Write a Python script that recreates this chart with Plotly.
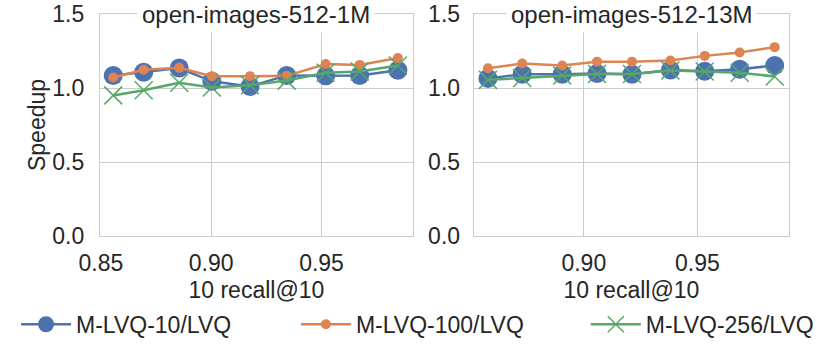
import plotly.graph_objects as go

# recall@10 positions
recall_1m = [0.8556, 0.8694, 0.8855, 0.9003, 0.9176, 0.9342, 0.9519, 0.9673, 0.9846]
recall_13m = [0.8578, 0.8729, 0.8905, 0.9058, 0.9212, 0.9381, 0.9532, 0.9686, 0.9840]

# speedups, open-images-512-1M
m10_1m = [1.084, 1.107, 1.135, 1.045, 1.010, 1.085, 1.082, 1.085, 1.120]
m100_1m = [1.071, 1.123, 1.136, 1.080, 1.080, 1.082, 1.162, 1.156, 1.202]
m256_1m = [0.950, 0.985, 1.035, 1.003, 1.018, 1.050, 1.103, 1.111, 1.152]

# speedups, open-images-512-13M
m10_13m = [1.065, 1.093, 1.093, 1.098, 1.093, 1.122, 1.113, 1.127, 1.152]
m100_13m = [1.133, 1.166, 1.152, 1.178, 1.178, 1.186, 1.217, 1.240, 1.276]
m256_13m = [1.055, 1.067, 1.085, 1.094, 1.094, 1.118, 1.111, 1.103, 1.078]

names = ['M-LVQ-10/LVQ', 'M-LVQ-100/LVQ', 'M-LVQ-256/LVQ']
titles = ['open-images-512-1M', 'open-images-512-13M']

blue, orange, green = '#4C72B0', '#DD8452', '#55A868'
FONT = 'Liberation Sans, Arial, sans-serif'
TXT = '#262626'
GRID = '#cccccc'
FS = 23

W, H = 830, 347
PL, PT, PR, PB = 100, 14, 789.3, 236.5   # plot area in pixels

fig = go.Figure()

styles = [
    dict(line=dict(color=blue, width=2.5), marker=dict(symbol='circle', size=19, color=blue)),
    dict(line=dict(color=orange, width=2.5), marker=dict(symbol='circle', size=10, color=orange)),
    dict(line=dict(color=green, width=2.5),
         marker=dict(symbol='x-thin', size=18, color=green, line=dict(color=green, width=1.5))),
]
legends = ['legend', 'legend2', 'legend3']

panels = [
    ('x', 'y', recall_1m, [m10_1m, m100_1m, m256_1m]),
    ('x2', 'y2', recall_13m, [m10_13m, m100_13m, m256_13m]),
]
for i, (xa, ya, rx, series) in enumerate(panels):
    for k in range(3):
        fig.add_trace(go.Scatter(x=rx, y=series[k], xaxis=xa, yaxis=ya, name=names[k],
                                 mode='lines+markers', showlegend=(i == 0),
                                 legend=legends[k], **styles[k]))

axis_common = dict(showgrid=True, gridcolor=GRID, gridwidth=1, showline=True, mirror=True,
                   linecolor=GRID, linewidth=1.3, zeroline=False, ticks='',
                   automargin=False, tickfont=dict(family=FONT, size=FS, color=TXT))

pw = PR - PL
ph = PB - PT


def leg(xpix):
    # legend placed by pixel position
    return dict(orientation='h', x=(xpix - PL) / pw, xanchor='left',
                y=(PB - 325) / ph, yanchor='middle', bgcolor='rgba(0,0,0,0)',
                itemwidth=50, font=dict(family=FONT, size=FS, color=TXT))


xtitle = dict(text='10 recall@10', standoff=7, font=dict(family=FONT, size=FS, color=TXT))

fig.update_layout(
    width=W, height=H,
    margin=dict(l=PL, r=W - PR, t=PT, b=H - PB, autoexpand=False),
    paper_bgcolor='white', plot_bgcolor='white',
    font=dict(family=FONT, color=TXT, size=FS),
    xaxis=dict(domain=[0, 313 / pw], range=[0.8496, 0.9914], tickvals=[0.85, 0.90, 0.95],
               tickformat='.2f', ticklabelstandoff=6, title=xtitle, **axis_common),
    xaxis2=dict(domain=[374 / pw, 1], range=[0.8516, 0.9903], tickvals=[0.85, 0.90, 0.95],
                tickformat='.2f', ticklabelstandoff=6, title=xtitle, **axis_common),
    yaxis=dict(domain=[0, 1], range=[0, 1.5], tickvals=[0, 0.5, 1.0, 1.5], tickformat='.1f',
               anchor='x', ticklabelstandoff=10,
               title=dict(text='Speedup', standoff=0,
                          font=dict(family=FONT, size=FS, color=TXT)),
               **axis_common),
    yaxis2=dict(domain=[0, 1], range=[0, 1.5], tickvals=[0, 0.5, 1.0, 1.5], tickformat='.1f',
                anchor='x2', ticklabelstandoff=8, **axis_common),
    legend=leg(16),
    legend2=leg(296),
    legend3=leg(586),
    annotations=[
        dict(text=titles[0], xref='x domain', yref='y domain', x=0.5, y=1.0,
             xanchor='center', yanchor='middle', showarrow=False, bgcolor='white',
             borderpad=4, font=dict(family=FONT, size=24, color=TXT)),
        dict(text=titles[1], xref='x2 domain', yref='y2 domain', x=0.5, y=1.0,
             xanchor='center', yanchor='middle', showarrow=False, bgcolor='white',
             borderpad=4, font=dict(family=FONT, size=24, color=TXT)),
    ],
)

# drop the default page margin so the figure sits at the window's corner
fig.write_html('out.html', config={'displayModeBar': False},
               post_script="document.body.style.margin='0';")
